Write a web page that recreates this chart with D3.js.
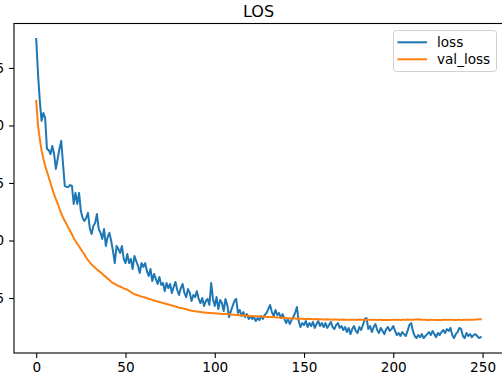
<!DOCTYPE html>
<html>
<head>
<meta charset="utf-8">
<script src="https://cdn.jsdelivr.net/npm/d3@7"></script>
<style>
  html, body { margin: 0; padding: 0; background: #fff; }
  svg { display: block; font-family: "DejaVu Sans", sans-serif; }
</style>
</head>
<body>
<svg id="chart" width="502" height="376"></svg>
<script>
// loss per epoch
const loss = [
  1.876, 1.724, 1.607, 1.520, 1.554, 1.533, 1.398, 1.393, 1.376, 1.411,
  1.376, 1.311, 1.354, 1.398, 1.433, 1.333, 1.237, 1.233, 1.233, 1.241,
  1.237, 1.159, 1.207, 1.159, 1.207, 1.128, 1.098, 1.085, 1.098, 1.120,
  1.054,
  1.028, 1.063, 1.076, 1.115, 1.050, 1.033, 1.007, 1.050, 0.976, 1.015,
  1.033, 0.998, 0.954, 0.902, 0.976, 0.963, 0.946, 0.976, 0.920, 0.902,
  0.941, 0.902, 0.920, 0.876, 0.933, 0.911, 0.889, 0.859, 0.902, 0.885,
  0.902, 0.867, 0.846, 0.876, 0.824, 0.854, 0.833, 0.811, 0.841, 0.807,
  0.815, 0.780, 0.815, 0.793, 0.811, 0.772, 0.798, 0.820, 0.785, 0.763,
  0.793, 0.811, 0.772, 0.754, 0.789, 0.772, 0.737, 0.763, 0.754, 0.780,
  0.746, 0.728, 0.750, 0.715, 0.737, 0.746, 0.720, 0.815, 0.746, 0.715,
  0.754, 0.702, 0.741, 0.728, 0.693, 0.746, 0.720, 0.667, 0.693, 0.715,
  0.737, 0.746, 0.685, 0.698, 0.672, 0.689, 0.667, 0.680, 0.659, 0.672,
  0.659, 0.667, 0.650, 0.663, 0.654, 0.672, 0.659, 0.676, 0.685, 0.702, 0.720, 0.689,
  0.672, 0.698, 0.676, 0.685, 0.663, 0.680, 0.659, 0.641,
  0.659, 0.637, 0.654, 0.667, 0.685, 0.711, 0.650, 0.624, 0.641,
  0.633, 0.650, 0.624, 0.641, 0.628, 0.646, 0.620, 0.637, 0.650, 0.628, 0.641,
  0.624, 0.641, 0.620, 0.633, 0.646, 0.624, 0.615, 0.633, 0.641, 0.620, 0.628, 0.611,
  0.624, 0.602, 0.620, 0.593, 0.615, 0.628, 0.607, 0.598, 0.624, 0.611, 0.633, 0.659, 0.663, 0.615,
  0.628, 0.602, 0.624, 0.637, 0.611, 0.598, 0.620, 0.607, 0.593, 0.615, 0.624, 0.607,
  0.615, 0.628, 0.607, 0.589, 0.598, 0.585, 0.602, 0.593,
  0.585, 0.607, 0.633, 0.641, 0.607,
  0.585, 0.576, 0.589, 0.580, 0.593, 0.576, 0.585, 0.593,
  0.602, 0.589, 0.607, 0.593, 0.580, 0.598, 0.589, 0.602, 0.611, 0.598, 0.615, 0.607, 0.620,
  0.589, 0.576, 0.593, 0.602, 0.620, 0.615, 0.585, 0.576, 0.598, 0.585, 0.593, 0.580, 0.589,
  0.593, 0.585, 0.576, 0.580
];

// validation loss per epoch
const valLoss = [
  1.607, 1.500, 1.440, 1.390, 1.355, 1.325, 1.300, 1.275, 1.250, 1.225,
  1.200, 1.180, 1.160, 1.138, 1.118, 1.100, 1.085, 1.070, 1.055, 1.041,
  1.027, 1.010, 0.998, 0.985, 0.975, 0.962, 0.950, 0.940, 0.925, 0.915,
  0.905, 0.896, 0.888, 0.882, 0.874, 0.868, 0.862, 0.855, 0.848, 0.842,
  0.835, 0.828, 0.821, 0.815, 0.812, 0.807, 0.803, 0.800, 0.796, 0.792,
  0.789, 0.786, 0.781, 0.776, 0.770, 0.767, 0.764, 0.762, 0.759, 0.756,
  0.754, 0.752, 0.749, 0.747, 0.745, 0.742, 0.739, 0.737, 0.735, 0.733,
  0.731, 0.728, 0.726, 0.724, 0.722, 0.720, 0.718, 0.715, 0.713, 0.711,
  0.708, 0.707, 0.705, 0.703, 0.701, 0.699, 0.697, 0.695, 0.693, 0.692,
  0.691, 0.690, 0.689, 0.688, 0.687, 0.686, 0.686, 0.685, 0.685, 0.684,
  0.684, 0.683, 0.683, 0.682, 0.681, 0.681, 0.680, 0.680, 0.679, 0.678,
  0.677, 0.677, 0.676, 0.676, 0.675, 0.675, 0.674, 0.674, 0.673, 0.673,
  0.672, 0.672, 0.671, 0.671, 0.671, 0.670, 0.670, 0.669, 0.669, 0.668,
  0.668, 0.667, 0.667, 0.666, 0.666, 0.665, 0.665, 0.664, 0.664, 0.663,
  0.663, 0.662, 0.662, 0.661, 0.661, 0.661, 0.660, 0.660, 0.660, 0.660,
  0.659, 0.659, 0.660, 0.659, 0.659, 0.658, 0.658, 0.659, 0.658, 0.658,
  0.658, 0.657, 0.657, 0.658, 0.657, 0.657, 0.656, 0.657, 0.657, 0.656,
  0.656, 0.656, 0.657, 0.656, 0.656, 0.655, 0.656, 0.656, 0.655, 0.655,
  0.656, 0.657, 0.656, 0.655, 0.656, 0.656, 0.655, 0.655, 0.656, 0.655,
  0.655, 0.654, 0.655, 0.655, 0.654, 0.654, 0.655, 0.654, 0.654, 0.655,
  0.655, 0.656, 0.655, 0.655, 0.654, 0.655, 0.655, 0.656, 0.657, 0.656,
  0.655, 0.656, 0.657, 0.657, 0.658, 0.657, 0.656, 0.655, 0.655, 0.654,
  0.654, 0.655, 0.655, 0.654, 0.654, 0.655, 0.654, 0.654, 0.655, 0.655,
  0.655, 0.656, 0.655, 0.655, 0.654, 0.654, 0.655, 0.655, 0.654, 0.655,
  0.655, 0.655, 0.656, 0.656, 0.655, 0.656, 0.657, 0.657, 0.658, 0.658
];

const xTicks = [0, 50, 100, 150, 200, 250];
const yTicks = [1.75, 1.50, 1.25, 1.00, 0.75];
const seriesNames = ["loss", "val_loss"];
const colors = ["#1f77b4", "#ff7f0e"];
const title = "LOS";

// axes box (the figure is cropped on the left and right)
const box = { left: 14, right: 503, top: 24, bottom: 353 };

const svg = d3.select("#chart");

// matplotlib style 5% margins
const n = loss.length;
const xPad = (n - 1) * 0.05;
const x = d3.scaleLinear()
  .domain([-xPad, n - 1 + xPad])
  .range([box.left, box.right]);

const all = loss.concat(valLoss);
const yMin = d3.min(all), yMax = d3.max(all);
const yPad = (yMax - yMin) * 0.05;
const y = d3.scaleLinear()
  .domain([yMin - yPad, yMax + yPad])
  .range([box.bottom, box.top]);

// lines
const line = d3.line()
  .x((d, i) => x(i))
  .y(d => y(d));

[loss, valLoss].forEach((s, k) => {
  svg.append("path")
    .attr("d", line(s))
    .attr("fill", "none")
    .attr("stroke", colors[k])
    .attr("stroke-width", 2)
    .attr("stroke-linejoin", "round")
    .attr("stroke-linecap", "square");
});

// x axis
const xAxis = svg.append("g")
  .attr("transform", "translate(0," + box.bottom + ")")
  .call(d3.axisBottom(x).tickValues(xTicks).tickSize(4.9).tickPadding(4.9).tickFormat(d3.format("d")));
xAxis.select(".domain").remove();
xAxis.selectAll("line").attr("stroke", "#000").attr("stroke-width", 1.1);
xAxis.selectAll("text").attr("font-size", "13.6px").attr("fill", "#000").attr("font-family", "DejaVu Sans");

// y axis
const yAxis = svg.append("g")
  .attr("transform", "translate(" + box.left + ",0)")
  .call(d3.axisLeft(y).tickValues(yTicks).tickSize(4.9).tickPadding(4.9).tickFormat(d3.format(".2f")));
yAxis.select(".domain").remove();
yAxis.selectAll("line").attr("stroke", "#000").attr("stroke-width", 1.1);
yAxis.selectAll("text").attr("font-size", "13.6px").attr("fill", "#000").attr("font-family", "DejaVu Sans");

// spines
svg.append("rect")
  .attr("x", box.left)
  .attr("y", box.top - 0.5)
  .attr("width", box.right - box.left)
  .attr("height", box.bottom - box.top + 0.5)
  .attr("fill", "none")
  .attr("stroke", "#000")
  .attr("stroke-width", 1.1);

// title
svg.append("text")
  .attr("x", (box.left + box.right) / 2)
  .attr("y", 16.7)
  .attr("text-anchor", "middle")
  .attr("font-size", "16px")
  .text(title);

// legend
const lg = svg.append("g").attr("transform", "translate(393.5,30.5)");
lg.append("rect")
  .attr("width", 103)
  .attr("height", 41)
  .attr("rx", 3)
  .attr("fill", "#fff")
  .attr("fill-opacity", 0.8)
  .attr("stroke", "#d0d0d0")
  .attr("stroke-width", 1);

seriesNames.forEach((name, k) => {
  const cy = 11.8 + k * 17;
  lg.append("line")
    .attr("x1", 4).attr("x2", 33.5)
    .attr("y1", cy).attr("y2", cy)
    .attr("stroke", colors[k])
    .attr("stroke-width", 2);
  lg.append("text")
    .attr("x", 43.5)
    .attr("y", cy + 4.8)
    .attr("font-size", "13.6px")
    .text(name);
});
</script>
</body>
</html>
